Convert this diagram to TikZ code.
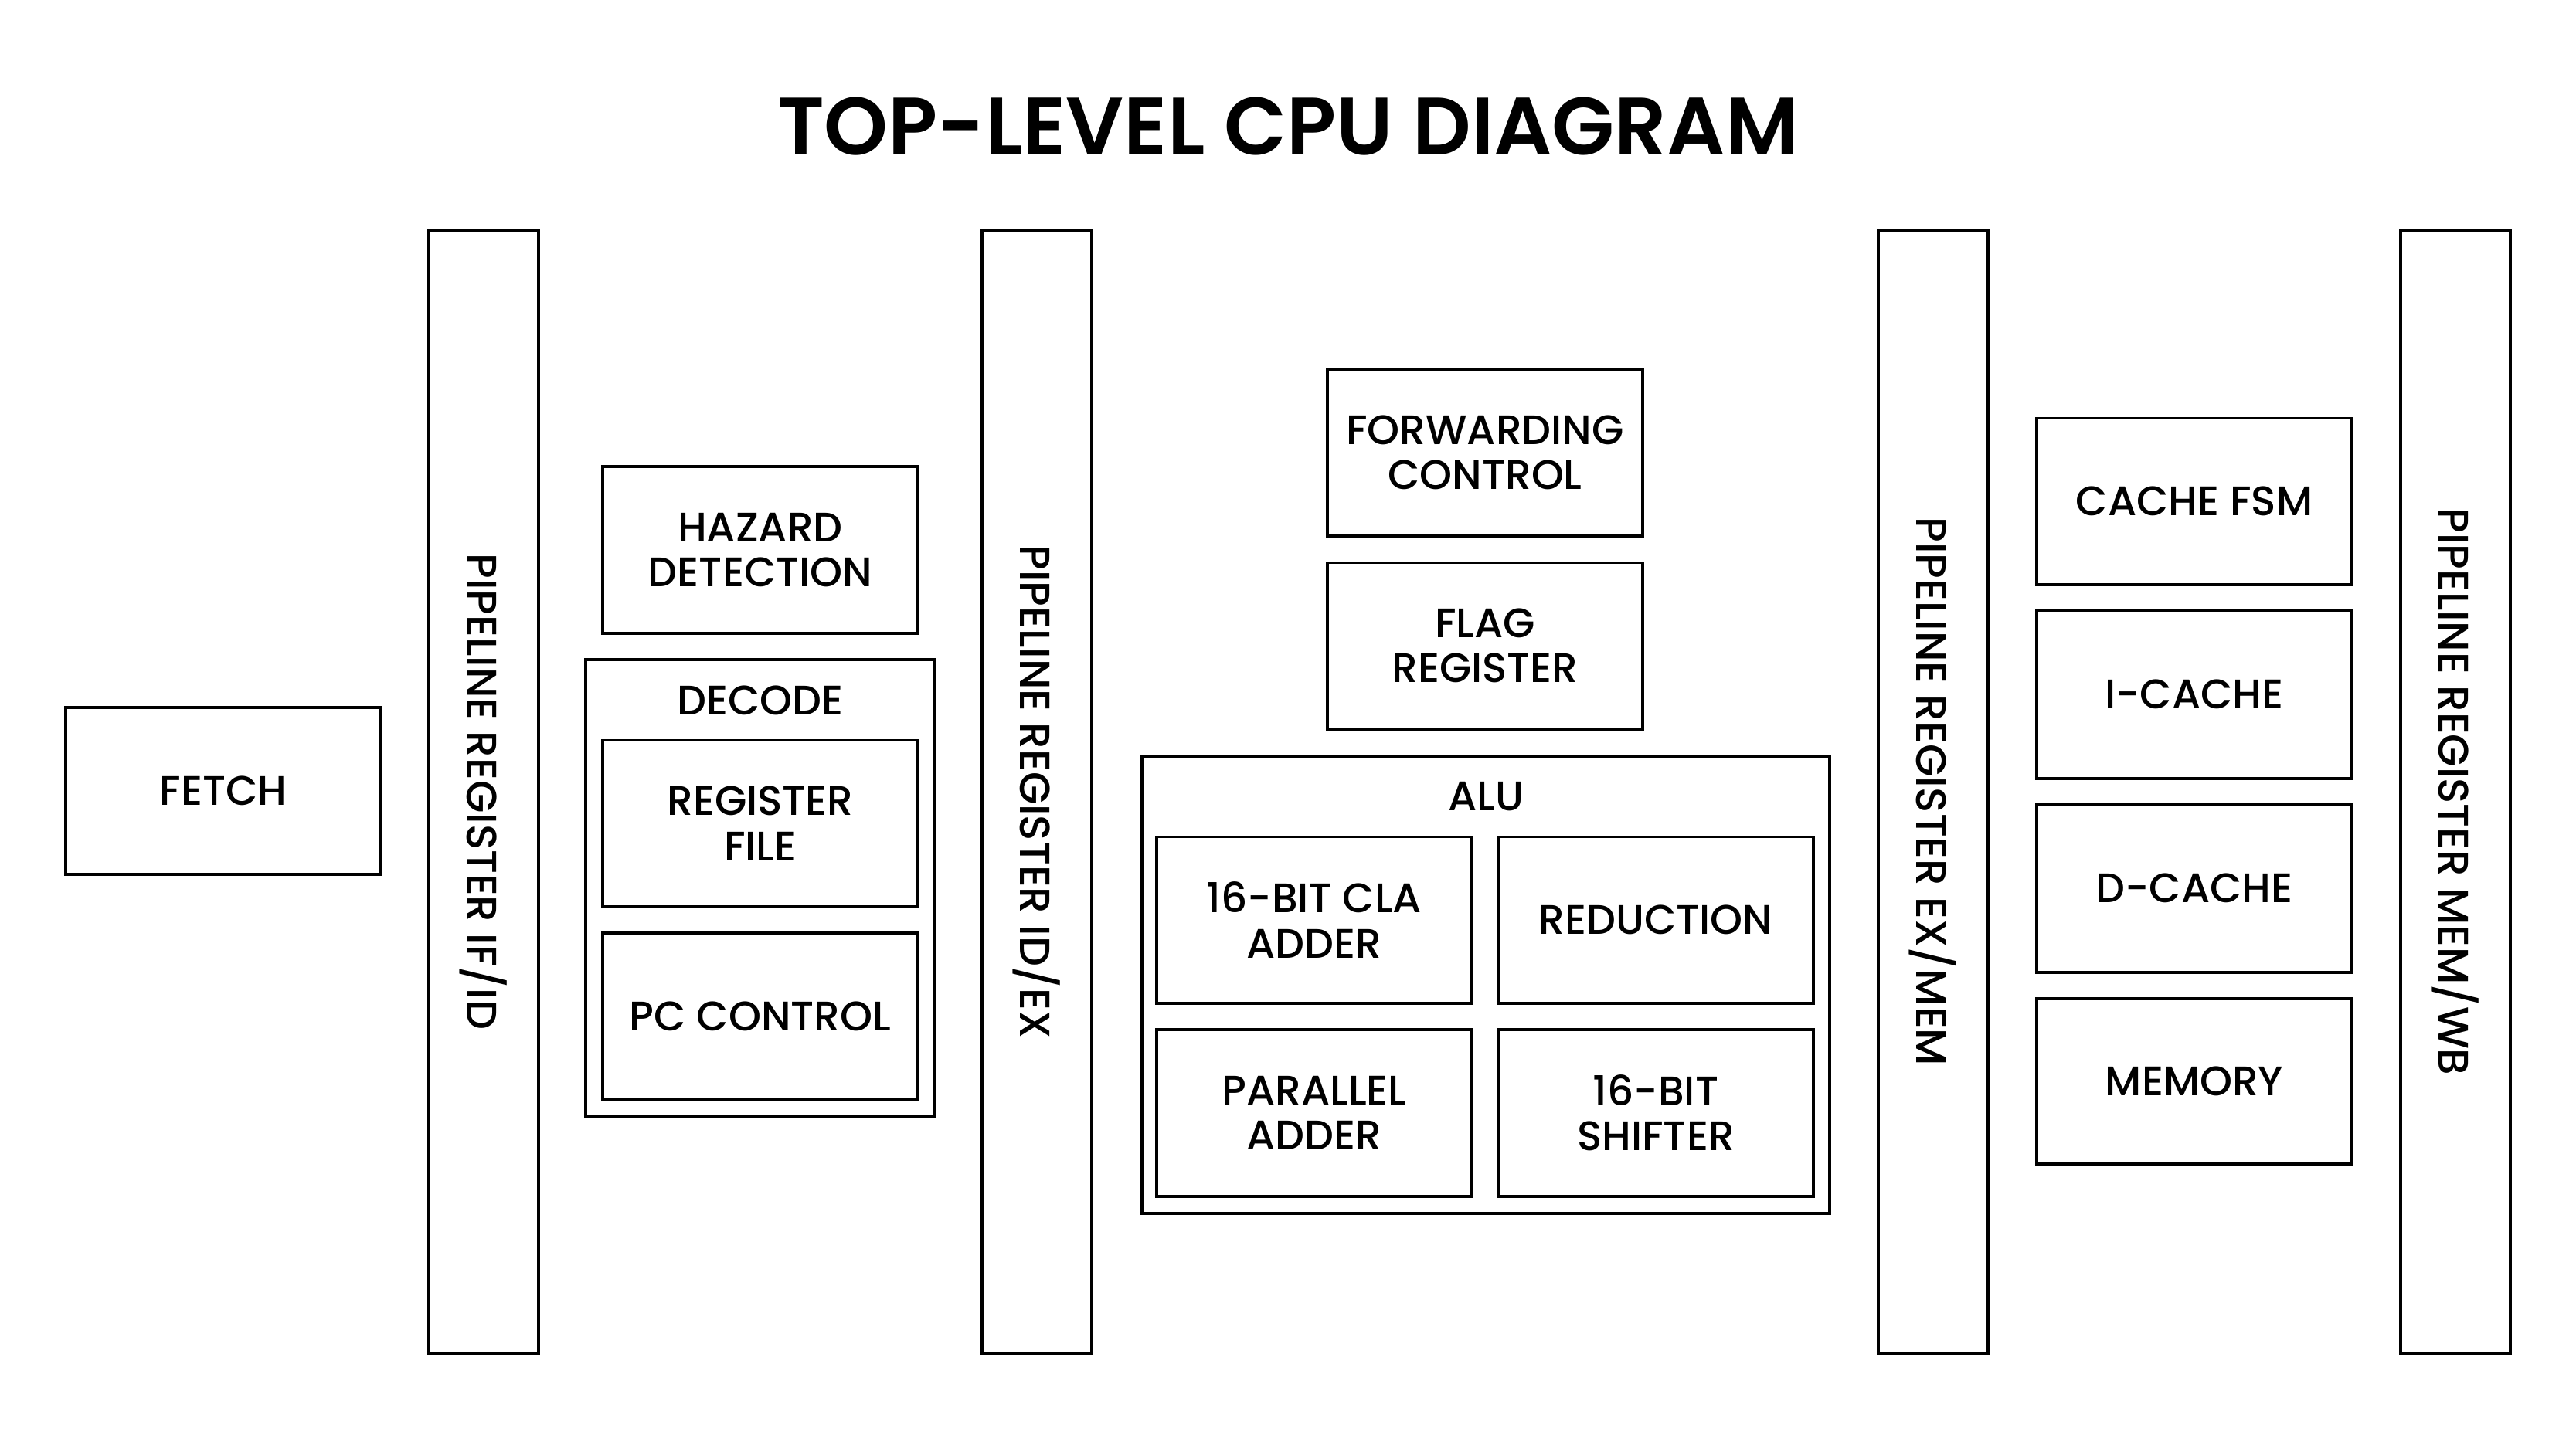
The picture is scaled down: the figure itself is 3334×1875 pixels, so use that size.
\documentclass[tikz,border=0pt]{standalone}
\usepackage{fontspec}
\setmainfont{Poppins}[UprightFont=* Medium,BoldFont=* SemiBold]
\usepackage{tikz}

\begin{document}
\begin{tikzpicture}[x=0.01cm,y=-0.01cm]
            \tikzstyle{block}=[draw,line width=1.1pt,minimum width=4.08cm,minimum height=2.16cm,align=center,inner sep=0pt,font=\fontsize{15.2}{16.6}\selectfont]
            \tikzstyle{pipereg}=[draw,line width=1.1pt,minimum width=1.42cm,minimum height=14.54cm,inner sep=0pt]
            \tikzstyle{outer}=[draw,line width=1.1pt,inner sep=0pt]
            \tikzstyle{regtext}=[rotate=-90,font=\fontsize{15.6}{17}\selectfont]
            \useasboundingbox (0,0) rectangle (3334,1875);
            \node[font=\bfseries\fontsize{30}{32}\selectfont] (title) at (1667,164) {TOP-LEVEL CPU DIAGRAM};
            % fetch stage
            \node[block] (fetch) at (289,1024) {FETCH};
            \node[pipereg] (ifid) at (626,1025) {};
            \node[regtext] (ifidtext) at (ifid) {PIPELINE REGISTER IF/ID};
            % decode stage
            \node[block] (hazard) at (984,712) {HAZARD\\DETECTION};
            \node[outer,minimum width=4.51cm,minimum height=5.91cm] (decode) at (984,1150) {};
            \node[font=\fontsize{15.2}{16.6}\selectfont] (decodetext) at (984,907) {DECODE};
            \node[block,minimum height=2.15cm] (regfile) at (984,1066) {REGISTER\\FILE};
            \node[block] (pcctrl) at (984,1316) {PC CONTROL};
            \node[pipereg] (idex) at (1342,1025) {};
            \node[regtext] (idextext) at (idex) {PIPELINE REGISTER ID/EX};
            % execute stage
            \node[block] (fwd) at (1922,586) {FORWARDING\\CONTROL};
            \node[block,minimum height=2.15cm] (flag) at (1922,836) {FLAG\\REGISTER};
            \node[outer,minimum width=8.9cm,minimum height=5.91cm] (alu) at (1923,1275) {};
            \node[font=\fontsize{15.2}{16.6}\selectfont] (alutext) at (1923,1031) {ALU};
            \node[block,minimum height=2.15cm] (cla) at (1701,1191) {16-BIT CLA\\ADDER};
            \node[block,minimum height=2.15cm] (reduction) at (2143,1191) {REDUCTION};
            \node[block] (paradder) at (1701,1441) {PARALLEL\\ADDER};
            \node[block] (shifter) at (2143,1441) {16-BIT\\SHIFTER};
            \node[pipereg] (exmem) at (2502,1025) {};
            \node[regtext] (exmemtext) at (exmem) {PIPELINE REGISTER EX/MEM};
            % memory stage
            \node[block,minimum height=2.15cm] (cachefsm) at (2840,649) {CACHE FSM};
            \node[block,minimum height=2.17cm] (icache) at (2840,899) {I-CACHE};
            \node[block,minimum height=2.17cm] (dcache) at (2840,1150) {D-CACHE};
            \node[block,minimum height=2.14cm] (memory) at (2840,1400) {MEMORY};
            \node[pipereg] (memwb) at (3178,1025) {};
            \node[regtext] (memwbtext) at (memwb) {PIPELINE REGISTER MEM/WB};
        \end{tikzpicture}
\end{document}
